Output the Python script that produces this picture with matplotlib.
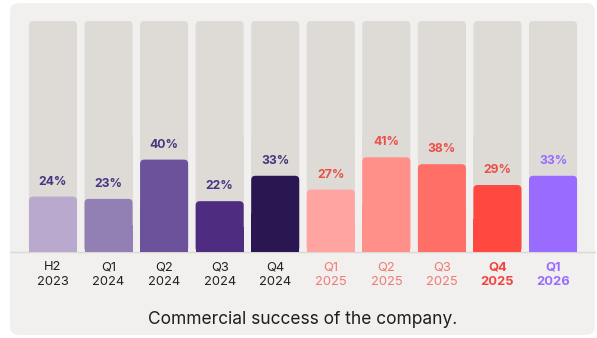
import matplotlib.pyplot as plt
from matplotlib.patches import FancyBboxPatch, Rectangle

# Quarterly share values (%)
periods = ["H2\n2023", "Q1\n2024", "Q2\n2024", "Q3\n2024", "Q4\n2024",
           "Q1\n2025", "Q2\n2025", "Q3\n2025", "Q4\n2025", "Q1\n2026"]
values = [24, 23, 40, 22, 33, 27, 41, 38, 29, 33]

bar_colors = ["#b9a9cf", "#9280b5", "#6c529b", "#4e2c80", "#2a1650",
              "#ffa4a0", "#ff8f89", "#ff6f67", "#ff4940", "#9a6bff"]
value_colors = ["#4a347f"] * 5 + ["#ec4f48"] * 4 + ["#9a6bff"]
tick_colors = ["#222222"] * 5 + ["#f07a73"] * 3 + ["#f0453d", "#9a6bff"]
tick_weights = ["normal"] * 8 + ["bold", "bold"]

plt.rcParams['font.family'] = ['Inter', 'DejaVu Sans']

W, H = 597, 338
fig = plt.figure(figsize=(W / 100, H / 100), dpi=100, facecolor="white")

# card behind the chart
card = FancyBboxPatch((10 / W, 3 / H), 585 / W, 332 / H,
                      boxstyle="round,pad=0,rounding_size=0.015",
                      transform=fig.transFigure, facecolor="#f1f0ee",
                      edgecolor="none", mutation_aspect=W / H, zorder=-10)
fig.patches.append(card)
fig.add_artist(plt.Line2D([10 / W, 595 / W], [86 / H, 86 / H],
                          transform=fig.transFigure, color="#dcd9d5", lw=1,
                          zorder=-5))

ax = fig.add_axes([25.2 / W, 86 / H, 555.6 / W, 231 / H])
ax.set_xlim(-0.5, len(values) - 0.5)
ax.set_ylim(0, 100)
ax.axis("off")

bw = 0.865
r = 0.075
aspect = (100 / 231) / (len(values) / 555.6)


def rounded_bar(x, h, color):
    ax.add_patch(FancyBboxPatch((x - bw / 2, 0), bw, h,
                                boxstyle=f"round,pad=0,rounding_size={r}",
                                mutation_aspect=aspect, facecolor=color,
                                edgecolor="none"))
    ax.add_patch(Rectangle((x - bw / 2, 0), bw, h / 2, facecolor=color,
                           edgecolor="none"))


for i, v in enumerate(values):
    rounded_bar(i, 100, "#dedbd7")
    rounded_bar(i, v, bar_colors[i])
    ax.annotate(f"{v}%", (i, v), xytext=(0, 6.5), textcoords="offset points",
                ha="center", va="bottom", fontsize=8.8, fontweight="bold",
                color=value_colors[i])

for i, lab in enumerate(periods):
    ax.annotate(lab, (i, 0), xytext=(0, -6.5), textcoords="offset points",
                ha="center", va="top", fontsize=9.3, linespacing=1.3,
                color=tick_colors[i], fontweight=tick_weights[i],
                annotation_clip=False)

fig.text(303 / W, 1 - 319 / H, "Commercial success of the company.",
         ha="center", va="center", fontsize=12.5, color="#1e1e1e")

fig.savefig("out.png", dpi=100, facecolor="white")
